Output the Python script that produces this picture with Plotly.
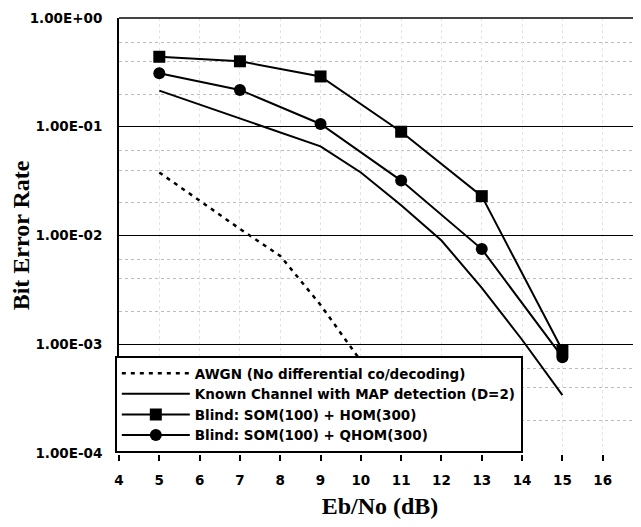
import plotly.graph_objects as go

# ---- data ----
snr_awgn = [5, 6, 7, 8, 9, 10]
ber_awgn = [0.038, 0.021, 0.0115, 0.0065, 0.0023, 0.0007]

snr_known = [5, 6, 7, 8, 9, 10, 11, 12, 13, 14, 15]
ber_known = [0.215, 0.16, 0.12, 0.089, 0.066, 0.038, 0.019, 0.009, 0.0033, 0.0011, 0.00034]

snr_blind = [5, 7, 9, 11, 13, 15]
ber_hom = [0.44, 0.40, 0.29, 0.09, 0.023, 0.00088]
ber_qhom = [0.31, 0.218, 0.106, 0.032, 0.0075, 0.00076]

names = [
    "AWGN (No differential co/decoding)",
    "Known Channel with MAP detection (D=2)",
    "Blind: SOM(100) + HOM(300)",
    "Blind: SOM(100) + QHOM(300)",
]

x_ticks = list(range(4, 17))
y_ticks = [1, 0.1, 0.01, 0.001, 0.0001]
y_tick_text = ["1.00E+00", "1.00E-01", "1.00E-02", "1.00E-03", "1.00E-04"]
y_minor = [m * d for d in [0.1, 0.01, 0.001, 0.0001] for m in (2, 4, 6)]

fig = go.Figure()
fig.add_trace(go.Scatter(x=snr_awgn, y=ber_awgn, mode="lines", name=names[0],
                         line=dict(color="black", width=2.5, dash="4px,5px")))
fig.add_trace(go.Scatter(x=snr_known, y=ber_known, mode="lines", name=names[1],
                         line=dict(color="black", width=2)))
fig.add_trace(go.Scatter(x=snr_blind, y=ber_hom, mode="lines+markers", name=names[2],
                         line=dict(color="black", width=2),
                         marker=dict(symbol="square", size=12, color="black")))
fig.add_trace(go.Scatter(x=snr_blind, y=ber_qhom, mode="lines+markers", name=names[3],
                         line=dict(color="black", width=2),
                         marker=dict(symbol="circle", size=12, color="black")))

tick_font = dict(family="DejaVu Sans", size=13.5, color="black", weight="bold")
title_font = dict(family="Liberation Serif", size=24, color="black", weight="bold")

# the page body has an 8px default margin, so the figure is sized to fit the window
fig.update_layout(
    width=633, height=519,
    margin=dict(l=111, r=0, t=10, b=74),
    paper_bgcolor="white", plot_bgcolor="white",
    showlegend=True,
    legend=dict(x=-0.008, y=0, xanchor="left", yanchor="bottom",
                bgcolor="white", bordercolor="black", borderwidth=2,
                font=dict(family="DejaVu Sans", size=13.5, color="black", weight="bold"),
                itemwidth=68, tracegroupgap=0),
    xaxis=dict(range=[4, 16.95], tickvals=x_ticks, ticks="outside", ticklen=6,
               tickwidth=2, tickcolor="black", showline=True, linecolor="white",
               linewidth=2, showgrid=True,
               gridcolor="#e4e4e4", griddash="dot", gridwidth=1, zeroline=False,
               tickfont=tick_font, ticklabelstandoff=8, automargin=False,
               title=dict(text="Eb/No (dB)", font=title_font, standoff=10)),
    yaxis=dict(type="log", range=[-4, 0], tickvals=y_ticks, ticktext=y_tick_text,
               showline=True, linecolor="black", linewidth=2, ticks="",
               showgrid=True, gridcolor="black", gridwidth=1, zeroline=False,
               minor=dict(tickvals=y_minor, showgrid=True, gridcolor="#bbbbbb",
                          griddash="dot", gridwidth=1, ticks=""),
               tickfont=tick_font, ticklabelstandoff=12, automargin=False,
               title=dict(text="Bit Error Rate", font=title_font, standoff=8)),
    shapes=[dict(type="line", xref="paper", yref="paper", x0=0, x1=1, y0=1, y1=1,
                 line=dict(color="#444444", width=2))],
)

fig.write_html("out.html")
